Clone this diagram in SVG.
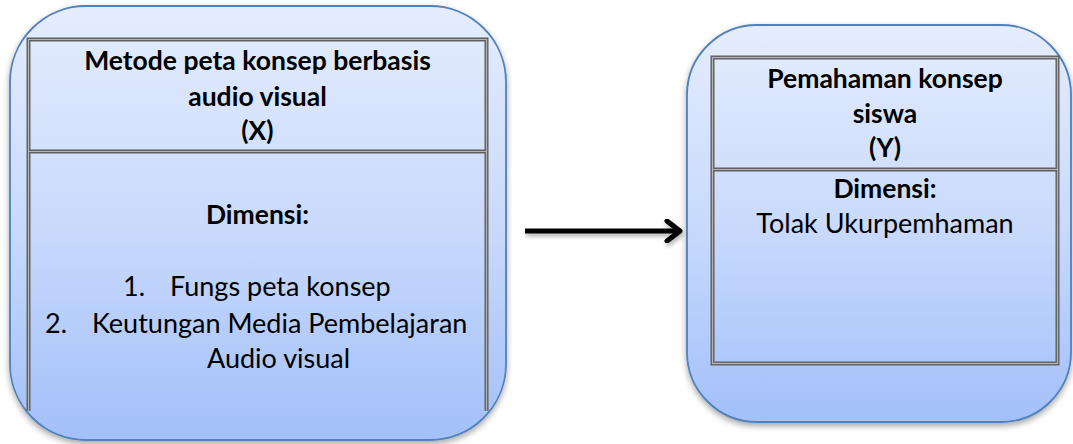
<svg xmlns="http://www.w3.org/2000/svg" width="1073" height="444" viewBox="0 0 1073 444">
  <defs>
    <linearGradient id="boxFill" x1="0" y1="0" x2="0" y2="1">
      <stop offset="0" stop-color="#e5edfd"/>
      <stop offset="0.5" stop-color="#c9dafc"/>
      <stop offset="1" stop-color="#a3c0fa"/>
    </linearGradient>
    <filter id="shadow" x="-10%" y="-10%" width="120%" height="125%">
      <feDropShadow dx="0" dy="3" stdDeviation="3" flood-color="#000" flood-opacity="0.35"/>
    </filter>
    <filter id="lineShadow" filterUnits="userSpaceOnUse" x="0" y="0" width="1073" height="444">
      <feDropShadow dx="1" dy="3" stdDeviation="2" flood-color="#000" flood-opacity="0.3"/>
    </filter>
    <marker id="chevron" viewBox="0 0 20 24" refX="17" refY="12" markerWidth="20" markerHeight="24" markerUnits="userSpaceOnUse" orient="auto">
      <path d="M4,2 L17,12 L4,22" fill="none" stroke="#000" stroke-width="5" stroke-linecap="round" stroke-linejoin="round"/>
    </marker>
  </defs>
  <style>
    .box { fill: url(#boxFill); stroke: #4f81bd; stroke-width: 1.8; }
    .frameOuter { fill: none; stroke: #5f5f5f; stroke-width: 4; }
    .frameInner { fill: none; stroke: #b4b4b4; stroke-width: 1.2; }
    .title { font-family: Lato, "Open Sans", sans-serif; font-weight: bold; font-size: 26.5px; fill: #000; text-anchor: middle; }
    .body { font-family: Lato, "Open Sans", sans-serif; font-size: 27px; fill: #000; }
    .conn { stroke: #000; stroke-width: 5; fill: none; }
  </style>

  <!-- left node: independent variable X -->
  <g id="node-x">
    <rect class="box" x="10" y="6" width="496" height="434" rx="76" ry="76" filter="url(#shadow)"/>
    <path class="frameOuter" d="M28.5,411 V39.5 H486.5 V411 M28.5,151.5 H486.5"/>
    <path class="frameInner" d="M28.5,411 V39.5 H486.5 V411 M28.5,151.5 H486.5"/>
    <text class="title" x="257.5" y="70">Metode peta konsep berbasis</text>
    <text class="title" x="257.5" y="106">audio visual</text>
    <text class="title" x="257.5" y="140">(X)</text>
    <text class="title" x="257.5" y="224">Dimensi:</text>
    <text class="body" x="123" y="296">1.</text>
    <text class="body" x="170" y="296">Fungs peta konsep</text>
    <text class="body" x="45" y="333">2.</text>
    <text class="body" x="92" y="333">Keutungan Media Pembelajaran</text>
    <text class="body" x="207" y="368">Audio visual</text>
  </g>

  <!-- right node: dependent variable Y -->
  <g id="node-y">
    <rect class="box" x="687" y="25" width="384" height="397" rx="70" ry="70" filter="url(#shadow)"/>
    <rect class="frameOuter" x="712.5" y="57.5" width="345" height="306"/>
    <path class="frameOuter" d="M712.5,169.5 H1057.5"/>
    <rect class="frameInner" x="712.5" y="57.5" width="345" height="306"/>
    <path class="frameInner" d="M712.5,169.5 H1057.5"/>
    <text class="title" x="885" y="88">Pemahaman konsep</text>
    <text class="title" x="885" y="123">siswa</text>
    <text class="title" x="885" y="157">(Y)</text>
    <text class="title" x="885" y="198">Dimensi:</text>
    <text class="body" x="885" y="233" text-anchor="middle">Tolak Ukurpemhaman</text>
  </g>

  <!-- connectors -->
  <g id="connectors">
    <line class="conn" x1="525" y1="231" x2="680" y2="231" marker-end="url(#chevron)" filter="url(#lineShadow)"/>
  </g>
</svg>
